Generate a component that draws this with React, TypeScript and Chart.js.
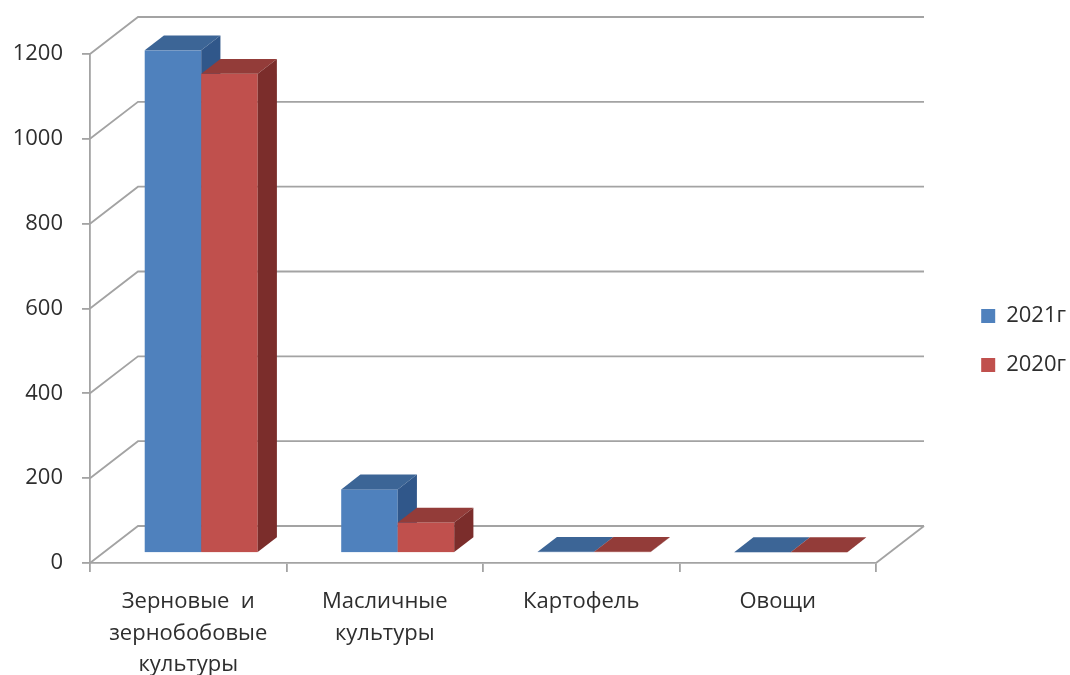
import React, { useEffect, useRef } from "react";
import { Chart, registerables } from "chart.js";

Chart.register(...registerables);

// ---- data ----
const categories: (string | string[])[] = [
  ["Зерновые  и", "зернобобовые", "культуры"],
  ["Масличные", "культуры"],
  "Картофель",
  "Овощи",
];
const seriesNames = ["2021г", "2020г"];
const values2021 = [1185, 150, 3, 2];
const values2020 = [1130, 72, 3, 2];
const yTickValues = [0, 200, 400, 600, 800, 1000, 1200];

// ---- styles ----
const FONT = "'Open Sans', sans-serif";
const TEXT = "#2e2e2e";
const GRID = "#a3a3a3";
const GRID_W = 1.8;
const BLUE = { front: "#4F81BD", top: "#3C6596", side: "#30578A" };
const RED = { front: "#C0504D", top: "#933C39", side: "#7B2D2B" };
const FACES = [BLUE, RED];
const DX = 48; // depth vector of the floor
const DY = 37;
const BAR_FRONT = 0.27; // depth at which the bar front faces sit
const BAR_DEPTH = 0.4; // bar depth as a fraction of floor depth
const AREA_RIGHT = 876;
const LEGEND_SHIFT = 6;

const walls3d = {
  id: "walls3d",
  afterLayout(chart: any) {
    if (chart.legend) {
      chart.legend.left += LEGEND_SHIFT;
      chart.legend.right += LEGEND_SHIFT;
    }
  },
  beforeDatasetsDraw(chart: any) {
    const { ctx, chartArea, scales } = chart;
    const { left, right, bottom } = chartArea;
    const y = scales.y;
    ctx.save();
    ctx.strokeStyle = GRID;
    ctx.lineWidth = GRID_W;
    y.ticks.forEach((t: any) => {
      const py = y.getPixelForValue(t.value);
      ctx.beginPath();
      ctx.moveTo(left, py);
      ctx.lineTo(left + DX, py - DY);
      ctx.lineTo(right + DX, py - DY);
      ctx.stroke();
    });
    ctx.beginPath();
    ctx.moveTo(right, bottom);
    ctx.lineTo(right + DX, bottom - DY);
    ctx.stroke();
    ctx.restore();
  },
  beforeDatasetDraw() {
    return false;
  },
  afterDatasetsDraw(chart: any) {
    const { ctx } = chart;
    const n = chart.data.labels.length;
    const ox = DX * BAR_FRONT;
    const oy = DY * BAR_FRONT;
    const dx = DX * BAR_DEPTH;
    const dy = DY * BAR_DEPTH;
    ctx.save();
    for (let i = 0; i < n; i++) {
      chart.data.datasets.forEach((_: any, d: number) => {
        const el = chart.getDatasetMeta(d).data[i];
        if (!el) return;
        const { x, y, base, width } = el.getProps(["x", "y", "base", "width"], true);
        const l = x - width / 2 + ox;
        const r = x + width / 2 + ox;
        const t = y - oy;
        const b = base - oy;
        const f = FACES[d];
        ctx.fillStyle = f.front;
        ctx.fillRect(l, t, r - l, b - t);
        ctx.fillStyle = f.top;
        ctx.beginPath();
        ctx.moveTo(l, t);
        ctx.lineTo(l + dx, t - dy);
        ctx.lineTo(r + dx, t - dy);
        ctx.lineTo(r, t);
        ctx.closePath();
        ctx.fill();
        ctx.fillStyle = f.side;
        ctx.beginPath();
        ctx.moveTo(r, t);
        ctx.lineTo(r + dx, t - dy);
        ctx.lineTo(r + dx, b - dy);
        ctx.lineTo(r, b);
        ctx.closePath();
        ctx.fill();
      });
    }
    ctx.restore();
  },
};

export default function App() {
  const ref = useRef<HTMLCanvasElement>(null);
  useEffect(() => {
    if (!ref.current) return;
    Chart.defaults.font.family = FONT;
    const font = { family: FONT, size: 22, lineHeight: 1.44 };
    const chart = new Chart(ref.current, {
      type: "bar",
      data: {
        labels: categories as any,
        datasets: [
          {
            label: seriesNames[0],
            data: values2021,
            backgroundColor: BLUE.front,
            borderWidth: 0,
            categoryPercentage: 0.575,
            barPercentage: 1,
          },
          {
            label: seriesNames[1],
            data: values2020,
            backgroundColor: RED.front,
            borderWidth: 0,
            categoryPercentage: 0.575,
            barPercentage: 1,
          },
        ],
      },
      options: {
        animation: false,
        responsive: true,
        maintainAspectRatio: false,
        layout: { padding: { top: 6, left: 0, right: 0, bottom: 0 } },
        plugins: {
          tooltip: { enabled: false },
          legend: {
            position: "right",
            labels: {
              boxWidth: 14,
              boxHeight: 14,
              padding: 27,
              color: TEXT,
              font: { family: FONT, size: 22 },
            },
          },
        },
        scales: {
          x: {
            type: "category",
            position: "bottom",
            offset: true,
            grid: {
              offset: true,
              drawOnChartArea: false,
              drawTicks: true,
              tickLength: 9,
              color: GRID,
              lineWidth: GRID_W,
            },
            border: { color: GRID, width: GRID_W },
            ticks: {
              color: TEXT,
              font,
              padding: 14,
              maxRotation: 0,
              autoSkip: false,
            },
            afterFit: (s: any) => {
              s.height = 112;
            },
          },
          xTop: {
            type: "category",
            position: "top",
            display: true,
            grid: { display: false },
            border: { display: false },
            ticks: { display: false },
            afterFit: (s: any) => {
              s.height = 48;
            },
          },
          y: {
            type: "linear",
            position: "left",
            min: 0,
            max: 1200,
            afterBuildTicks: (s: any) => {
              s.ticks = yTickValues.map((v) => ({ value: v }));
            },
            grid: {
              drawOnChartArea: false,
              drawTicks: true,
              tickLength: 8,
              color: GRID,
              lineWidth: GRID_W,
            },
            border: { color: GRID, width: GRID_W },
            ticks: {
              color: TEXT,
              font,
              padding: 19,
              callback: (v: any) => String(v),
            },
            afterFit: (s: any) => {
              s.width = 90;
            },
          },
          yRight: {
            type: "linear",
            position: "right",
            display: true,
            grid: { display: false },
            border: { display: false },
            ticks: { display: false },
            afterFit: (s: any) => {
              const lw = s.chart.legend && s.chart.legend.width ? s.chart.legend.width : 120;
              s.width = Math.max(0, s.chart.width - AREA_RIGHT - lw);
            },
          },
        },
      } as any,
      plugins: [walls3d],
    });
    return () => chart.destroy();
  }, []);
  return (
    <div style={{ position: "fixed", left: 0, top: 0, width: 1070, height: 675 }}>
      <canvas ref={ref} />
    </div>
  );
}
